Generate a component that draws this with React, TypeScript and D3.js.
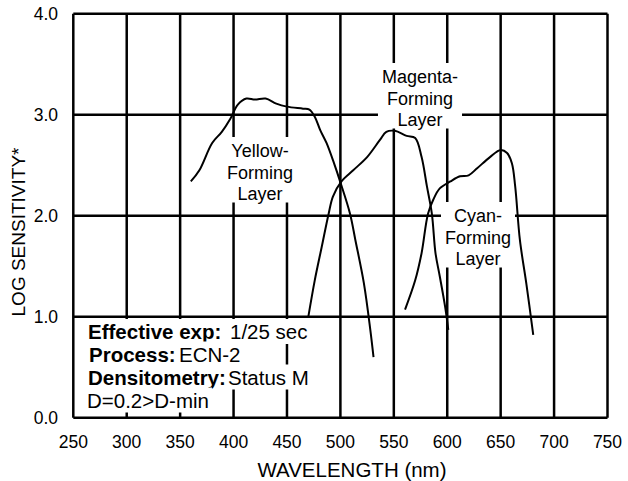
import React, { useEffect, useRef } from "react";
import * as d3 from "d3";

// ---------- data ----------
const xTickValues = [250, 300, 350, 400, 450, 500, 550, 600, 650, 700, 750];
const yTickValues = [0, 1, 2, 3, 4];
const yTickLabels = ["0.0", "1.0", "2.0", "3.0", "4.0"];

const yellowWl = [360, 368, 380, 389, 397, 404, 412, 420, 430, 440, 450, 465, 471, 476, 481, 487, 494, 500, 509, 514, 522, 528, 531];
const yellowLog = [2.34, 2.45, 2.72, 2.83, 2.96, 3.1, 3.16, 3.15, 3.16, 3.11, 3.08, 3.06, 3.05, 2.98, 2.85, 2.72, 2.52, 2.33, 2.02, 1.76, 1.33, 0.87, 0.6];

const magentaWl = [470, 476, 482.5, 489, 493, 501, 512, 525, 537, 543, 551, 562, 570, 576, 581, 585.6, 589, 593, 598, 601];
const magentaLog = [1.0, 1.36, 1.69, 2.02, 2.19, 2.34, 2.45, 2.58, 2.75, 2.83, 2.84, 2.79, 2.77, 2.58, 2.29, 2.02, 1.63, 1.4, 1.1, 0.87];

const cyanWl = [560.5, 570, 576, 582, 587, 593, 603, 612, 620, 628, 640, 650, 656, 660.5, 663.6, 668, 674, 680.5];
const cyanLog = [1.07, 1.36, 1.63, 2.02, 2.16, 2.27, 2.34, 2.39, 2.4, 2.47, 2.58, 2.65, 2.62, 2.52, 2.29, 1.76, 1.33, 0.82];

const layerNames = [
  ["Yellow-", "Forming", "Layer"],
  ["Magenta-", "Forming", "Layer"],
  ["Cyan-", "Forming", "Layer"],
];

const annoKeys = ["Effective exp:", "Process:", "Densitometry:", ""];
const annoValues = ["1/25 sec", "ECN-2", "Status M", "D=0.2>D-min"];

const xTitle = "WAVELENGTH (nm)";
const yTitle = "LOG SENSITIVITY*";

// ---------- layout ----------
const W = 628;
const H = 481;
const plotLeft = 73.3;
const plotRight = 607.5;
const plotTop = 13.7;
const plotBottom = 417.7;
const FONT = "'Liberation Sans', Arial, Helvetica, sans-serif";

// label anchors (center x in px, first baseline y in px)
const layerLabelPos = [
  [260, 157],
  [420, 83],
  [478, 222],
];
const annoKeyX = [88, 89, 88, 87];
const annoValX = [230, 179, 228, 87];
const annoBaseY = [339, 361.5, 384.5, 407.5];

export default function App() {
  const ref = useRef<SVGSVGElement | null>(null);

  useEffect(() => {
    const svg = d3.select(ref.current);
    svg.selectAll("*").remove();

    const x = d3.scaleLinear().domain([250, 750]).range([plotLeft, plotRight]);
    const y = d3.scaleLinear().domain([0, 4]).range([plotBottom, plotTop]);

    const grid = svg.append("g");
    grid
      .selectAll("line.v")
      .data(xTickValues)
      .join("line")
      .attr("x1", (d) => x(d))
      .attr("x2", (d) => x(d))
      .attr("y1", plotTop)
      .attr("y2", plotBottom)
      .attr("stroke", "#000")
      .attr("stroke-width", 2.5);
    grid
      .selectAll("line.h")
      .data(yTickValues)
      .join("line")
      .attr("x1", plotLeft)
      .attr("x2", plotRight)
      .attr("y1", (d) => y(d))
      .attr("y2", (d) => y(d))
      .attr("stroke", "#000")
      .attr("stroke-width", 2.5);

    // tick labels
    svg
      .append("g")
      .selectAll("text")
      .data(xTickValues)
      .join("text")
      .attr("x", (d) => x(d))
      .attr("y", 448)
      .attr("text-anchor", "middle")
      .attr("font-family", FONT)
      .attr("font-size", 17.5)
      .text((d) => String(d));
    svg
      .append("g")
      .selectAll("text")
      .data(yTickValues)
      .join("text")
      .attr("x", 58)
      .attr("y", (d) => y(d) + 6)
      .attr("text-anchor", "end")
      .attr("font-family", FONT)
      .attr("font-size", 17.5)
      .text((_, i) => yTickLabels[i]);

    // axis titles
    svg
      .append("text")
      .attr("x", 352)
      .attr("y", 477)
      .attr("text-anchor", "middle")
      .attr("font-family", FONT)
      .attr("font-size", 20.5)
      .text(xTitle);
    svg
      .append("text")
      .attr("transform", "translate(25,232) rotate(-90)")
      .attr("text-anchor", "middle")
      .attr("font-family", FONT)
      .attr("font-size", 19)
      .text(yTitle);

    // layer labels with white backgrounds
    layerNames.forEach((lines, i) => {
      const [cx, by] = layerLabelPos[i];
      const g = svg.append("g");
      const rect = g.append("rect").attr("fill", "#fff");
      const texts = g
        .selectAll("text")
        .data(lines)
        .join("text")
        .attr("x", cx)
        .attr("y", (_, j) => by + j * 21.5)
        .attr("text-anchor", "middle")
        .attr("font-family", FONT)
        .attr("font-size", 18)
        .text((d) => d);
      let maxW = 0;
      texts.each(function () {
        maxW = Math.max(maxW, (this as SVGTextElement).getComputedTextLength());
      });
      rect
        .attr("x", cx - maxW / 2 - 4)
        .attr("width", maxW + 8)
        .attr("y", by - 20)
        .attr("height", (lines.length - 1) * 21.5 + 22.5);
    });

    // annotation block
    annoValues.forEach((val, i) => {
      const g = svg.append("g");
      const rect = g.append("rect").attr("fill", "#fff");
      let minX = Infinity;
      let maxX = -Infinity;
      if (annoKeys[i]) {
        const t = g
          .append("text")
          .attr("x", annoKeyX[i])
          .attr("y", annoBaseY[i])
          .attr("font-family", FONT)
          .attr("font-weight", "bold")
          .attr("font-size", 20.5)
          .text(annoKeys[i]);
        const w = (t.node() as SVGTextElement).getComputedTextLength();
        minX = Math.min(minX, annoKeyX[i]);
        maxX = Math.max(maxX, annoKeyX[i] + w);
      }
      const tv = g
        .append("text")
        .attr("x", annoValX[i])
        .attr("y", annoBaseY[i])
        .attr("font-family", FONT)
        .attr("font-size", 20.5)
        .text(val);
      const wv = (tv.node() as SVGTextElement).getComputedTextLength();
      minX = Math.min(minX, annoValX[i]);
      maxX = Math.max(maxX, annoValX[i] + wv);
      rect
        .attr("x", minX - 3)
        .attr("width", maxX - minX + 6)
        .attr("y", annoBaseY[i] - 20)
        .attr("height", 25);
    });

    // curves
    const line = d3
      .line<[number, number]>()
      .x((d) => x(d[0]))
      .y((d) => y(d[1]))
      .curve(d3.curveCatmullRom.alpha(0.5));
    const series: [number[], number[]][] = [
      [yellowWl, yellowLog],
      [magentaWl, magentaLog],
      [cyanWl, cyanLog],
    ];
    svg
      .append("g")
      .selectAll("path")
      .data(series)
      .join("path")
      .attr("d", ([wl, lg]) => line(wl.map((w, k) => [w, lg[k]] as [number, number])) || "")
      .attr("fill", "none")
      .attr("stroke", "#000")
      .attr("stroke-width", 2);
  }, []);

  return (
    <svg
      ref={ref}
      width={W}
      height={H}
      style={{ position: "absolute", left: 0, top: 0, background: "#fff" }}
    />
  );
}
